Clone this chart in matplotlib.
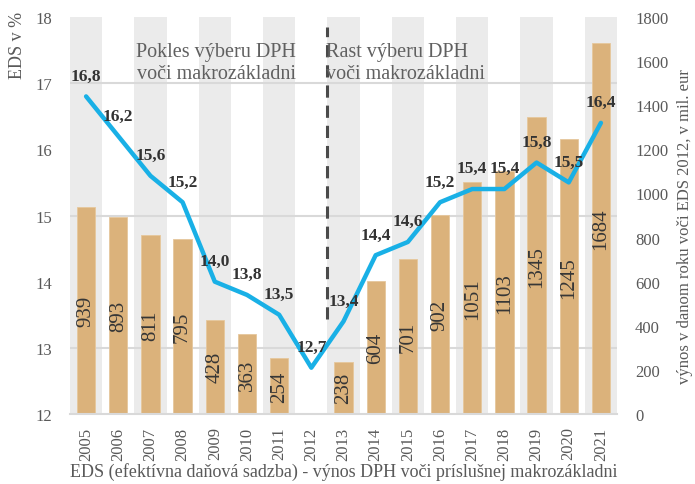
import numpy as np
import matplotlib
matplotlib.use("Agg")
import matplotlib.pyplot as plt

years = ["2005", "2006", "2007", "2008", "2009", "2010", "2011", "2012", "2013",
         "2014", "2015", "2016", "2017", "2018", "2019", "2020", "2021"]
eds = [16.8, 16.2, 15.6, 15.2, 14.0, 13.8, 13.5, 12.7, 13.4,
       14.4, 14.6, 15.2, 15.4, 15.4, 15.8, 15.5, 16.4]
vynos = [939, 893, 811, 795, 428, 363, 254, None, 238,
         604, 701, 902, 1051, 1103, 1345, 1245, 1684]
left_ticks = [12, 13, 14, 15, 16, 17, 18]
right_ticks = [0, 200, 400, 600, 800, 1000, 1200, 1400, 1600, 1800]
text_left = "Pokles výberu DPH\nvoči makrozákladni"
text_right = "Rast výberu DPH\nvoči makrozákladni"
xlabel = "EDS (efektívna daňová sadzba) - výnos DPH voči príslušnej makrozákladni"
ylabel_left = "EDS v %"
ylabel_right = "výnos v danom roku voči EDS 2012, v mil. eur"

plt.rcParams['font.family'] = ['Liberation Serif', 'DejaVu Serif']

TXT = "#595959"
BAR = "#dbb27b"
LINE = "#19b0e6"
BAND = "#ebebeb"
GRID = "#d9d9d9"

fig = plt.figure(figsize=(6.95, 4.85), dpi=100)
rect = [70 / 695, 70 / 485, 547 / 695, 397 / 485]
axb = fig.add_axes(rect)            # bars, right axis
axl = axb.twinx()                   # line, left axis (on top)

x = np.arange(len(years))
vals = np.array([np.nan if v is None else v for v in vynos], dtype=float)

# alternating column bands
for i in x:
    if i % 2 == 0:
        axb.axvspan(i - 0.5, i + 0.5, color=BAND, zorder=0, lw=0)

axb.bar(x, vals, width=0.57, color=BAR, zorder=3, edgecolor="#e6c79c", linewidth=0.6)
for i, v in zip(x, vals):
    if not np.isnan(v):
        axb.text(i, v / 2, f"{int(v)}", rotation=90, ha='center', va='center',
                 fontsize=15, color="#363636", zorder=4)

axb.set_xlim(-0.5, len(years) - 0.5)
axb.set_ylim(right_ticks[0], right_ticks[-1])
axb.set_yticks(right_ticks)
axb.set_yticklabels([str(t) for t in right_ticks])
# gridlines aligned with the left-axis ticks
axb.set_yticks(np.linspace(right_ticks[0], right_ticks[-1], len(left_ticks)), minor=True)
axb.grid(which='minor', axis='y', color=GRID, lw=1.5, zorder=1)
axb.tick_params(axis='y', which='both', length=0)
axb.yaxis.tick_right()
axb.tick_params(axis='y', which='major', labelsize=12, colors=TXT, pad=13,
                labelright=True, labelleft=False)
axb.set_xticks(x)
axb.set_xticklabels(years, rotation=90)
axb.tick_params(axis='x', length=0, labelsize=12, colors=TXT, pad=9)
for s in ['top', 'left', 'right']:
    axb.spines[s].set_visible(False)
axb.spines['bottom'].set_color(GRID)
axb.spines['bottom'].set_linewidth(1.5)
axb.spines['bottom'].set_zorder(5)

# line axis
axl.yaxis.tick_left()
axl.yaxis.set_label_position('left')
axl.set_ylim(left_ticks[0], left_ticks[-1])
axl.set_yticks(left_ticks)
axl.tick_params(axis='y', length=0, labelsize=12, colors=TXT, pad=13,
                labelleft=True, labelright=False)
for s in ['top', 'left', 'right', 'bottom']:
    axl.spines[s].set_visible(False)
axl.plot(x, eds, color=LINE, lw=3.2, solid_capstyle='round', solid_joinstyle='round', zorder=5)
for i, v in zip(x, eds):
    axl.annotate(f"{v:.1f}".replace('.', ','), (i, v), xytext=(0, 12),
                 textcoords='offset points', ha='center', va='baseline',
                 fontsize=12.5, fontweight='bold', color="#333333", zorder=6)

axl.axvline(7.5, ymin=0.239, ymax=0.975, color="#4a4a4a", lw=2.2,
            dashes=(4, 2.6), zorder=2)

axl.text(0.413, 0.936, text_left, transform=axl.transAxes, ha='right', va='top',
         fontsize=14.5, color="#606060", linespacing=1.15)
axl.text(0.468, 0.936, text_right, transform=axl.transAxes, ha='left', va='top',
         fontsize=14.5, color="#606060", linespacing=1.15)

fig.text(0.025, 0.975, ylabel_left, rotation=90, ha='center', va='top',
         fontsize=13, color=TXT)
fig.text(0.986, 0.532, ylabel_right, rotation=90, ha='center', va='center',
         fontsize=12, color=TXT)
fig.text(0.495, 0.008, xlabel, ha='center', va='bottom', fontsize=13, color=TXT)

fig.savefig("out.png", dpi=100)
